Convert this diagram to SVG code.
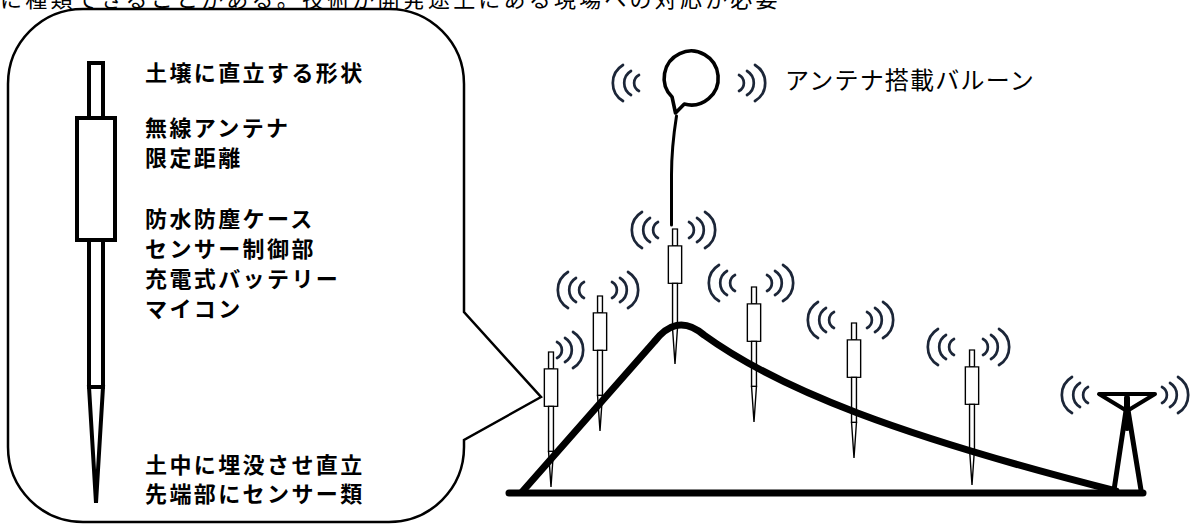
<svg xmlns="http://www.w3.org/2000/svg" xmlns:xlink="http://www.w3.org/1999/xlink" width="1196" height="524" viewBox="0 0 1196 524">
  <style>
    .jp { font-family: "Liberation Sans", "Noto Sans CJK JP", sans-serif; fill: #000; }
    .note { font-size: 22px; font-weight: 700; letter-spacing: 2.4px; }
    .label { font-size: 24px; letter-spacing: 1.2px; }
    .probe rect, .probe polygon { fill: #fff; stroke: #000; stroke-width: 4; stroke-linejoin: miter; }
    .wave path { fill: none; stroke: #1c2638; stroke-width: 2.7; stroke-linecap: round; }
    .heavy { fill: none; stroke: #000; stroke-linecap: round; stroke-linejoin: round; }
  </style>
  <defs>
    <!-- soil probe, drawn at full size: top at y=0, axis at x=0 -->
    <g id="probe" class="probe">
      <rect x="-7" y="0" width="14" height="55"/>
      <rect x="-19" y="55" width="38" height="122"/>
      <rect x="-7" y="177" width="14" height="147"/>
      <polygon points="-7,324 7,324 0,440"/>
    </g>
    <!-- radio waves, left side; origin at the outer arc's extreme point -->
    <g id="waveL" class="wave">
      <path d="M10,-18 A21 21 0 0 0 10,18"/>
      <path d="M18,-12 A14 14 0 0 0 18,12"/>
      <path d="M26,-8 A9 9 0 0 0 26,8"/>
    </g>
    <g id="waveR" class="wave">
      <use xlink:href="#waveL" href="#waveL" transform="scale(-1,1)"/>
    </g>
  </defs>

  <rect width="1196" height="524" fill="#fff"/>

  <!-- running text of the page above, cut by the frame -->
  <text class="jp" x="0" y="7" font-size="22" letter-spacing="3.2">に種類できることがある。技術が開発途上にある現場への対応が必要</text>

  <!-- callout bubble with the probe detail -->
  <g id="callout">
    <path d="M83,9 L389,9 A75 75 0 0 1 464,84 L464,312 L541,397 L464,440 L464,447 A75 75 0 0 1 389,522 L83,522 A75 75 0 0 1 8,447 L8,84 A75 75 0 0 1 83,9 Z" fill="#fff" stroke="#000" stroke-width="2.5" stroke-linejoin="miter"/>
  </g>

  <g id="probe-detail">
    <use xlink:href="#probe" href="#probe" transform="translate(96,63)"/>
  </g>

  <g id="probe-notes" class="jp note">
    <text x="145" y="81">土壌に直立する形状</text>
    <text x="145" y="136">無線アンテナ</text>
    <text x="145" y="166">限定距離</text>
    <text x="145" y="227">防水防塵ケース</text>
    <text x="145" y="257">センサー制御部</text>
    <text x="145" y="287">充電式バッテリー</text>
    <text x="145" y="317">マイコン</text>
    <text x="145" y="473">土中に埋没させ直立</text>
    <text x="145" y="502">先端部にセンサー類</text>
  </g>

  <!-- balloon carrying an antenna -->
  <g id="balloon">
    <path class="heavy" stroke-width="3.6" d="M684.3,104.1 A27 27 0 1 0 672.1,97.1 L675.5,113 Z"/>
    <path class="heavy" stroke-width="3" d="M676.5,116 C673.5,135 671.5,150 671.5,175 L671.5,225"/>
    <use xlink:href="#waveL" href="#waveL" transform="translate(613,83)"/>
    <use xlink:href="#waveR" href="#waveR" transform="translate(765,83)"/>
    <text class="jp label" x="785" y="89">アンテナ搭載バルーン</text>
  </g>

  <!-- probes planted on the slope -->
  <g id="sensor-1">
    <use xlink:href="#probe" href="#probe" transform="translate(551,352) scale(0.35,0.307)"/>
    <use xlink:href="#waveR" href="#waveR" transform="translate(583,350)"/>
  </g>
  <g id="sensor-2">
    <use xlink:href="#probe" href="#probe" transform="translate(600,296) scale(0.35,0.307)"/>
    <use xlink:href="#waveL" href="#waveL" transform="translate(558,290)"/>
    <use xlink:href="#waveR" href="#waveR" transform="translate(638,290)"/>
  </g>
  <g id="sensor-3">
    <use xlink:href="#probe" href="#probe" transform="translate(675,229) scale(0.35,0.307)"/>
    <use xlink:href="#waveL" href="#waveL" transform="translate(632,230)"/>
    <use xlink:href="#waveR" href="#waveR" transform="translate(715,230)"/>
  </g>
  <g id="sensor-4">
    <use xlink:href="#probe" href="#probe" transform="translate(754,287) scale(0.35,0.307)"/>
    <use xlink:href="#waveL" href="#waveL" transform="translate(709,283)"/>
    <use xlink:href="#waveR" href="#waveR" transform="translate(793,283)"/>
  </g>
  <g id="sensor-5">
    <use xlink:href="#probe" href="#probe" transform="translate(854,323) scale(0.35,0.307)"/>
    <use xlink:href="#waveL" href="#waveL" transform="translate(808,320)"/>
    <use xlink:href="#waveR" href="#waveR" transform="translate(893,320)"/>
  </g>
  <g id="sensor-6">
    <use xlink:href="#probe" href="#probe" transform="translate(972,350) scale(0.35,0.307)"/>
    <use xlink:href="#waveL" href="#waveL" transform="translate(928,347)"/>
    <use xlink:href="#waveR" href="#waveR" transform="translate(1009,347)"/>
  </g>

  <!-- ground and slope profile -->
  <g id="terrain">
    <path class="heavy" stroke-width="7" d="M522,492 L654,342 C668,324 684,318 704,335 C780,390 900,436 1116,491"/>
    <path class="heavy" stroke-width="7" d="M509,493 L1143,493"/>
  </g>

  <!-- base station tower -->
  <g id="tower">
    <path class="heavy" stroke-width="4" stroke-linejoin="miter" d="M1099,394 L1155,394 L1127,411 Z"/>
    <path class="heavy" stroke-width="6" d="M1127,398 L1127,428"/>
    <path class="heavy" stroke-width="5" d="M1127,404 L1114,490 M1127,404 L1141,490"/>
    <use xlink:href="#waveL" href="#waveL" transform="translate(1062,395)"/>
    <use xlink:href="#waveR" href="#waveR" transform="translate(1188,395)"/>
  </g>
</svg>
